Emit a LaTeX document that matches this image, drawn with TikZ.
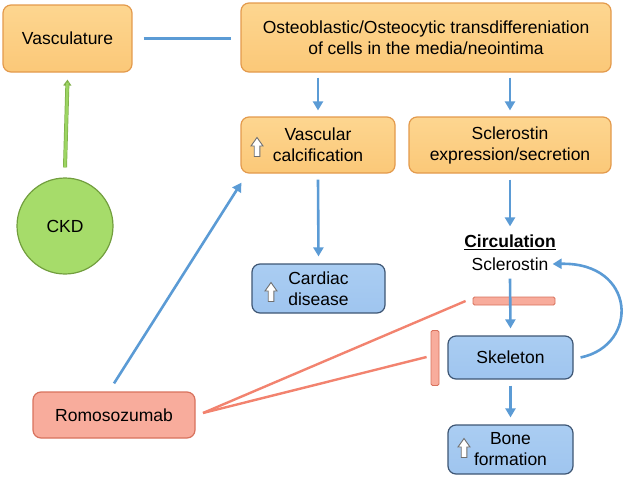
\documentclass[tikz,border=0pt]{standalone}
\usepackage{fontspec}
\setmainfont{Liberation Sans}
\usetikzlibrary{arrows.meta,calc}
\definecolor{orfill}{HTML}{FBC878}
\definecolor{orfilltop}{HTML}{FDD690}
\definecolor{ordraw}{HTML}{E39A4C}
\definecolor{blfill}{HTML}{9FC5EF}
\definecolor{blfilltop}{HTML}{AACDF2}
\definecolor{bldraw}{HTML}{3E5674}
\definecolor{rdfill}{HTML}{F8AC9C}
\definecolor{rddraw}{HTML}{D8725D}
\definecolor{grfill}{HTML}{A6DC6A}
\definecolor{grdraw}{HTML}{729E3E}
\definecolor{blline}{HTML}{5B9BD5}
\definecolor{rdline}{HTML}{F2836F}
\definecolor{grline}{HTML}{9CD562}
\definecolor{icongray}{HTML}{6F6F6F}
\begin{document}
\begin{tikzpicture}[x=1pt,y=-1pt,
  every node/.style={font=\fontsize{17.5}{21}\selectfont, align=center, inner sep=0pt},
  obox/.style={draw=ordraw, line width=1.2pt, rounded corners=8pt, top color=orfilltop, bottom color=orfill},
  bbox/.style={draw=bldraw, line width=1.2pt, rounded corners=8pt, top color=blfilltop, bottom color=blfill},
  rbox/.style={draw=rddraw, line width=1.2pt, rounded corners=8pt, fill=rdfill},
  barrow/.style={draw=blline, line width=2.6pt, -{Triangle[length=9pt,width=10pt]}},
  bline/.style={draw=blline, line width=2.6pt},
  rline/.style={draw=rdline, line width=2.4pt},
  rbar/.style={draw=rddraw, line width=0.8pt, fill=rdfill, rounded corners=1.5pt},
  uparr/.pic={\draw[fill=white, draw=icongray, line width=0.9pt, line join=miter]
     (-2.8,9.5) -- (-2.8,-1) -- (-6,-1) -- (0,-9.5) -- (6,-1) -- (2.8,-1) -- (2.8,9.5) -- cycle;}
]
\useasboundingbox (0,0) rectangle (624,477);

\node[obox, minimum width=129pt, minimum height=67pt] (vasc) at (67.5,38.5) {Vasculature};
\node[obox, minimum width=370pt, minimum height=69pt] (osteo) at (426,37.5)
  {Osteoblastic/Osteocytic transdiffereniation\\of cells in the media/neointima};
\node[obox, minimum width=154pt, minimum height=56pt] (vcalc) at (318,145) {Vascular\\calcification};
\node[obox, minimum width=202pt, minimum height=56pt] (sexp) at (510,145) {Sclerostin\\expression/secretion};
\node[bbox, minimum width=133pt, minimum height=49pt] (card) at (318.5,288.5) {Cardiac\\disease};
\node (circ) at (510,242) {\textbf{\underline{Circulation}}};
\node (sclr) at (510,264) {Sclerostin};
\node[bbox, minimum width=125pt, minimum height=43pt] (skel) at (510.5,357.5) {Skeleton};
\node[bbox, minimum width=125pt, minimum height=49pt] (bone) at (510.5,449.5) {Bone\\formation};
\node[rbox, minimum width=162pt, minimum height=46pt] (romo) at (114,415) {Romosozumab};
\node[circle, draw=grdraw, line width=1.2pt, fill=grfill, minimum size=96pt] (ckd) at (65,226) {CKD};

\node[rbar, minimum width=82pt, minimum height=8pt] (hbar) at (514,301) {};
\node[rbar, minimum width=8pt, minimum height=55pt] (vbar) at (435,358) {};

\pic at (257,147) {uparr};
\pic at (271,292) {uparr};
\pic at (464,448) {uparr};

% connectors
\draw[bline] ([xshift=11pt]vasc.east) -- ([xshift=-9pt]vasc.east -| osteo.west);
\draw[barrow] ([yshift=-5pt]osteo.south -| vcalc) -- ([yshift=6pt]vcalc.north);
\draw[barrow] ([yshift=-5pt]osteo.south -| sexp) -- ([yshift=6pt]sexp.north);
\draw[barrow] ([yshift=-6pt]vcalc.south) -- ([yshift=7pt]card.north);
\draw[barrow] ([yshift=-6pt]sexp.south) -- ([yshift=8pt]circ.north);
\draw[barrow] ([yshift=-8pt]sclr.south) -- ([yshift=7pt]skel.north);
\draw[barrow] ([yshift=-6pt]skel.south) -- ([yshift=7pt]bone.north);
\draw[barrow] ([xshift=7pt]skel.east) .. controls (640,345) and (636,262) .. ([xshift=4pt]sclr.east);
\draw[barrow] ([yshift=8pt]romo.north) -- ([xshift=1pt,yshift=-9pt]vcalc.south west);
\draw[draw=grdraw!70!grline, line width=4pt, -{Triangle[length=6pt,width=8pt]}]
  ([yshift=10pt]ckd.north) -- ([yshift=-7pt]vasc.south);
\draw[draw=grline, line width=2.6pt, shorten >=1pt]
  ([yshift=10pt]ckd.north) -- ([yshift=-9pt]vasc.south);

\coordinate (rs) at (203,413);
\draw[rline] (rs) -- ([xshift=-7pt]hbar.west);
\draw[rline] (rs) -- ([xshift=-4pt,yshift=1pt]vbar.west);
\end{tikzpicture}
\end{document}
